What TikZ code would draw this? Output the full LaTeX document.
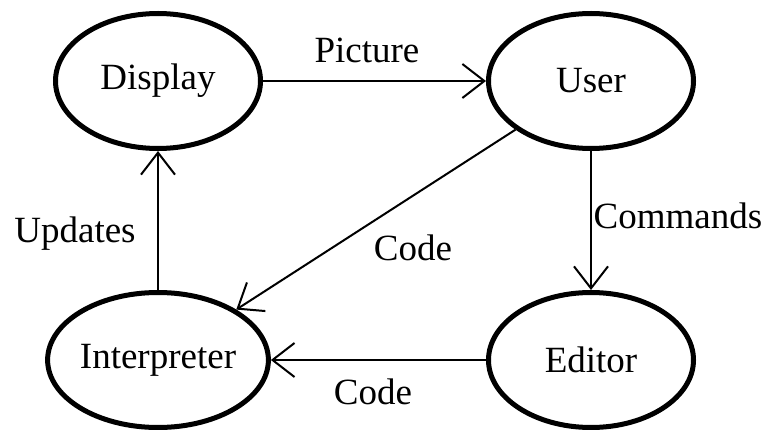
\documentclass[tikz,border=0pt]{standalone}
\usepackage{fontspec}
\setmainfont{Liberation Serif}
\usetikzlibrary{shapes.geometric,arrows.meta}
\begin{document}
\begin{tikzpicture}[x=1pt,y=-1pt,
  state/.style={ellipse,draw,line width=5pt,minimum width=205pt,minimum height=135pt,inner sep=0pt,font=\fontsize{37}{44}\selectfont},
  flow/.style={line width=2pt,-{Straight Barb[length=22pt,width=34pt,line width=2pt]}},
  lbl/.style={font=\fontsize{37}{44}\selectfont,inner sep=0pt}]
\useasboundingbox (0,0) rectangle (773,430);
\node[state] (display) at (158,81) {Display};
\node[state] (user) at (591,81) {User};
\node[state] (interp) at (158,360) {Interpreter};
\node[state] (editor) at (591,360) {Editor};
\draw[flow] (display) -- (user);
\draw[flow] (interp) -- (display);
\draw[flow] (user) -- (editor);
\draw[flow] (editor) -- (interp);
\draw[flow] (user) -- (interp);
\node[lbl] (lpicture) at (367,50) {Picture};
\node[lbl] (lupdates) at (75,234) {Updates};
\node[lbl] (lcode1) at (413,248) {Code};
\node[lbl] (lcommands) at (678,216) {Commands};
\node[lbl] (lcode2) at (373,392) {Code};
\end{tikzpicture}
\end{document}
